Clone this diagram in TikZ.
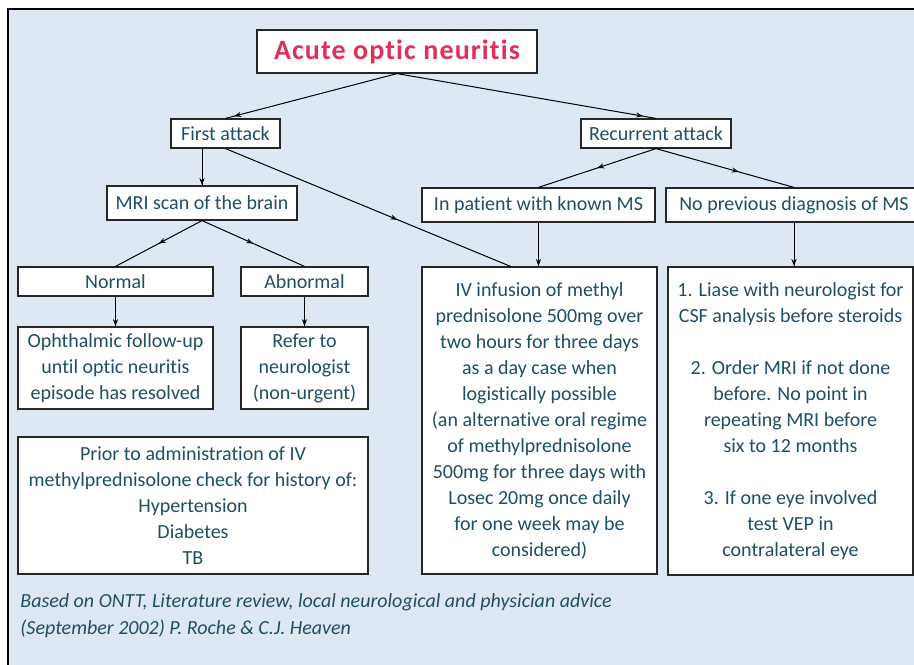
\documentclass[tikz,border=0pt]{standalone}
\usepackage{fontspec}
\setmainfont[Ligatures=NoCommon]{Carlito}
\usetikzlibrary{arrows.meta,decorations.markings}
\definecolor{fondo}{HTML}{DEE8F4}
\definecolor{texto}{HTML}{1F4F63}
\definecolor{titulo}{HTML}{E0305A}

\begin{document}
\begin{tikzpicture}[x=0.5pt, y=-0.5pt,
        caja/.style={draw=black!85, fill=white, line width=0.6pt, text=texto, align=center, inner sep=0pt, font=\fontsize{10}{13}\selectfont},
        flecha/.style={black, line width=0.5pt, postaction={decorate},
            decoration={markings, mark=at position #1 with {\arrow{Stealth[length=3.5pt,width=2.6pt]}}}}]
            % Marco
            \useasboundingbox (0,0) rectangle (914,664);
            \fill[fondo] (8,9) rectangle (930,680);
            \draw[black, line width=1.3pt] (8,680) -- (8,9) -- (930,9);

            % Titulo
            \node[caja, minimum width=140pt, minimum height=21.5pt, text=titulo, font=\fontsize{14}{16}\selectfont\bfseries\addfontfeature{LetterSpace=4}] (titulo) at (397,51.5) {Acute optic neuritis};

            % Primer nivel
            \node[caja, minimum width=54.5pt, minimum height=14.5pt] (primer) at (225.5,133.5) {First attack};
            \node[caja, minimum width=75pt, minimum height=14.5pt] (recurrente) at (656,133.5) {Recurrent attack};

            % Segundo nivel
            \node[caja, minimum width=95pt, minimum height=17pt] (rm) at (202,203) {MRI scan of the brain};
            \node[caja, minimum width=116.5pt, minimum height=17pt] (conocida) at (538.5,205) {In patient with known MS};
            \node[caja, minimum width=128pt, minimum height=17pt] (sindx) at (794,205) {No previous diagnosis of MS};

            % Resultado de la RM
            \node[caja, minimum width=97.5pt, minimum height=14.5pt] (normal) at (115.5,281.5) {Normal};
            \node[caja, minimum width=63.5pt, minimum height=14.5pt] (anormal) at (304.5,281.5) {Abnormal};
            \node[caja, minimum width=97.5pt, minimum height=41pt] (oftalmo) at (115.5,368) {Ophthalmic follow-up\\until optic neuritis\\episode has resolved};
            \node[caja, minimum width=63.5pt, minimum height=41pt] (neuro) at (304.5,368) {Refer to\\neurologist\\(non-urgent)};

            % Antecedentes
            \node[caja, minimum width=175pt, minimum height=68.5pt] (previo) at (193,505.5) {Prior to administration of IV\\methylprednisolone check for history of:\\Hypertension\\Diabetes\\TB};

            % Tratamiento
            \node[caja, minimum width=117.5pt, minimum height=153.5pt] (iv) at (539.5,420.5) {IV infusion of methyl\\prednisolone 500mg over\\two hours for three days\\as a day case when\\logistically possible\\(an alternative oral regime\\of methylprednisolone\\500mg for three days with\\Losec 20mg once daily\\for one week may be\\considered)};
            \node[caja, minimum width=122.5pt, minimum height=154pt] (lcr) at (790.5,421) {1. Liase with neurologist for\\CSF analysis before steroids\\[13pt]2. Order MRI if not done\\before. No point in\\repeating MRI before\\six to 12 months\\[13pt]3. If one eye involved\\test VEP in\\contralateral eye};

            % Nota
            \node[anchor=north west, text=texto, align=left, inner sep=0pt, font=\fontsize{10}{13.5}\selectfont\itshape] (nota) at (20,593) {Based on ONTT, Literature review, local neurological and physician advice\\(September 2002) P. Roche \& C.J. Heaven};

            % Flechas
            \coordinate (entradaiv) at (512,267);
            \draw[flecha=0.95] (titulo.south) -- (primer.north);
            \draw[flecha=0.95] (titulo.south) -- (recurrente.north);
            \draw[flecha=0.99] (primer.south -| rm.north) -- (rm.north);
            \draw[flecha=0.6] (primer.south) -- (entradaiv);
            \draw[flecha=0.5] (recurrente.south) -- (conocida.north);
            \draw[flecha=0.6] (recurrente.south) -- (sindx.north);
            \draw[flecha=0.99] (conocida.south) -- (conocida.south |- iv.north);
            \draw[flecha=0.99] (sindx.south) -- (sindx.south |- lcr.north);
            \draw[flecha=0.5] (rm.south) -- (normal.north);
            \draw[flecha=0.5] (rm.south) -- (anormal.north);
            \draw[flecha=0.99] (normal.south) -- (oftalmo.north);
            \draw[flecha=0.99] (anormal.south) -- (neuro.north);
        \end{tikzpicture}
\end{document}
